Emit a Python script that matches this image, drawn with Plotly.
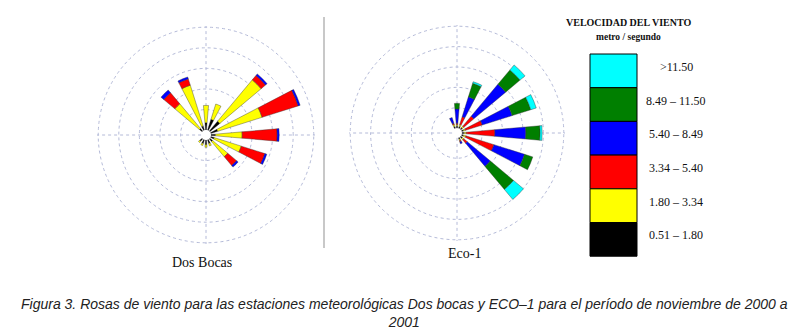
import plotly.graph_objects as go

W, H = 808, 336

DIRS = ["N", "NNE", "NE", "ENE", "E", "ESE", "SE", "SSE",
        "S", "SSW", "SW", "WSW", "W", "WNW", "NW", "NNW"]

CLASSES = ["0.51 – 1.80", "1.80 – 3.34", "3.34 – 5.40",
           "5.40 – 8.49", "8.49 – 11.50", ">11.50"]
CLASS_COLORS = ["#000000", "#ffff00", "#ff0000", "#0000ff", "#007f00", "#00ffff"]

# Dos Bocas: frequency (%) per speed class (stacked)
DB_BLACK  = [1.8, 2.8, 3.2, 1.8, 1.1, 0.9, 0.9, 1.0, 1.2, 1.0, 0.8, 0, 0, 0, 0.9, 1.1]
DB_YELLOW = [4.2, 3.9, 13.1, 11.3, 6.5, 6.9, 4.8, 0.6, 0.6, 0.5, 0.4, 0, 0, 0, 7.8, 10.4]
DB_RED    = [0, 0, 1.4, 9.2, 8.5, 6.0, 2.8, 0, 0, 0, 0, 0, 0, 0, 3.5, 1.6]
DB_BLUE   = [0, 0, 0.5, 0.5, 0.5, 0.5, 0.5, 0, 0, 0, 0, 0, 0, 0, 0.9, 0.5]
DB_GREEN  = [0] * 16
DB_CYAN   = [0] * 16

# Eco-1
EC_BLACK  = [0.5, 0.5, 0.5, 0.5, 0.5, 0.5, 0.5, 0.4, 0, 0, 0, 0, 0, 0, 0, 0.5]
EC_YELLOW = [0.4, 0.5, 0.5, 0.5, 0.6, 0.6, 0.5, 0.4, 0, 0, 0, 0, 0, 0, 0, 0.5]
EC_RED    = [0.3, 2.0, 3.2, 4.3, 7.0, 7.2, 1.1, 0.3, 0, 0, 0, 0, 0, 0, 0, 0.3]
EC_BLUE   = [3.5, 5.1, 10.2, 7.7, 7.6, 7.9, 7.4, 0.5, 0, 0, 0, 0, 0, 0, 0, 1.5]
EC_GREEN  = [1.4, 3.5, 4.6, 4.8, 3.5, 2.1, 7.4, 0, 0, 0, 0, 0, 0, 0, 0, 0]
EC_CYAN   = [0, 0.4, 1.6, 1.4, 0.5, 0, 3.2, 0, 0, 0, 0, 0, 0, 0, 0, 0]

STATIONS = ["Dos Bocas", "Eco-1"]
CAPTION = ("Figura 3. Rosas de viento para las estaciones meteorológicas Dos bocas y "
           "ECO–1 para el período de noviembre de 2000 a<br>2001")
LEGEND_TITLE = "VELOCIDAD DEL VIENTO"
LEGEND_SUB = "metro / segundo"

theta = [i * 360 / len(DIRS) for i in range(len(DIRS))]

fig = go.Figure()
series = {
    "polar": [DB_BLACK, DB_YELLOW, DB_RED, DB_BLUE, DB_GREEN, DB_CYAN],
    "polar2": [EC_BLACK, EC_YELLOW, EC_RED, EC_BLUE, EC_GREEN, EC_CYAN],
}
for sub, arrs in series.items():
    for name, col, vals in zip(CLASSES, CLASS_COLORS, arrs):
        fig.add_trace(go.Barpolar(
            r=vals, theta=theta, width=10, name=name, subplot=sub,
            marker=dict(color=col, line=dict(color="#333333", width=0.4)),
            showlegend=False, hoverinfo="skip"))

def px_dom(cx, cy, R):
    return dict(x=[(cx - R) / W, (cx + R) / W], y=[1 - (cy + R) / H, 1 - (cy - R) / H])

grid = "#b4bad8"
def polar_layout(dom):
    return dict(
        domain=dom, bgcolor="white", hole=0.045,
        radialaxis=dict(range=[0, 25.3], dtick=5, showticklabels=False, ticks="",
                        showline=False, gridcolor=grid, griddash="dot", gridwidth=1),
        angularaxis=dict(rotation=90, direction="clockwise", dtick=90,
                         showticklabels=False, ticks="", showline=False,
                         gridcolor=grid, griddash="dot", gridwidth=1),
    )

shapes = []
annotations = []

def txt(text, x, y, size, family="Liberation Serif", color="#111"):
    annotations.append(dict(text=text, xref="paper", yref="paper",
                            x=x / W, y=1 - y / H, showarrow=False,
                            xanchor="center", yanchor="middle", align="center",
                            font=dict(family=family, size=size, color=color)))

# separator line
shapes.append(dict(type="line", xref="paper", yref="paper",
                   x0=324 / W, x1=324 / W, y0=1 - 248 / H, y1=1 - 17 / H,
                   line=dict(color="#c8c8c8", width=2)))

# legend boxes
box_x0, box_x1 = 590, 637
box_top, box_h = 54, 33.7
for i, (name, col) in enumerate(zip(reversed(CLASSES), reversed(CLASS_COLORS))):
    y0 = box_top + i * box_h
    shapes.append(dict(type="rect", xref="paper", yref="paper",
                       x0=box_x0 / W, x1=box_x1 / W,
                       y0=1 - (y0 + box_h) / H, y1=1 - y0 / H,
                       fillcolor=col, line=dict(color="#000000", width=1)))
    txt(name, 676, y0 + box_h / 2 - 4, 12)

txt("<b>" + LEGEND_TITLE + "</b>", 628, 23, 10)
txt("<b>" + LEGEND_SUB + "</b>", 628, 37, 9.5)

for name, (cx, cy) in zip(STATIONS, [(202, 262), (465, 253)]):
    txt(name, cx, cy, 14)

txt("<i>" + CAPTION + "</i>", 404, 313, 14, family="Liberation Sans", color="#222")

fig.update_layout(
    width=W, height=H, margin=dict(l=0, r=0, t=0, b=0),
    paper_bgcolor="white", plot_bgcolor="white",
    polar=polar_layout(px_dom(206, 135, 109)),
    polar2=polar_layout(px_dom(457, 133, 108)),
    shapes=shapes, annotations=annotations,
)

fig.write_html("out.html", config={"displayModeBar": False},
               post_script="document.body.style.margin='0';")
